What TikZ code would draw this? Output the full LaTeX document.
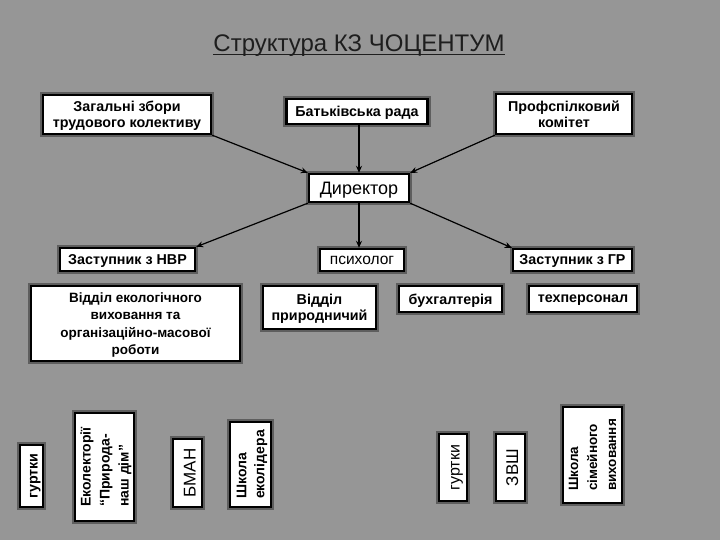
\documentclass[tikz,border=0pt]{standalone}
\usepackage{fontspec}
\setmainfont{Liberation Sans}
\usetikzlibrary{arrows.meta}
\definecolor{bg}{HTML}{969696}
\definecolor{shade}{HTML}{5E5E5E}
\definecolor{titlec}{HTML}{1E1E1E}
\tikzset{
  box/.style={preaction={draw=shade, line width=6.5pt}, draw=black, fill=white, line width=2.4pt,
    inner sep=0pt, text depth=0pt, font=\fontsize{14.3}{16}\selectfont\bfseries},
  mbox/.style={box, align=center},
  vbox/.style={box, rotate=90},
  mvbox/.style={box, rotate=90, align=left},
  sz/.style 2 args={minimum width=#1pt, minimum height=#2pt},
  conn/.style={draw=black, line width=1.2pt, -{Stealth[length=7pt,width=6pt]}},
}
\begin{document}
\begin{tikzpicture}[x=1pt,y=-1pt]
\fill[bg] (0,0) rectangle (720,540);
\useasboundingbox (0,0) rectangle (720,540);
% title
\node[font=\fontsize{24}{28}\selectfont, text=titlec, inner sep=0pt, anchor=base] (title) at (359,52) {Структура КЗ ЧОЦЕНТУМ};
\draw[titlec, line width=1pt] ([yshift=-2.5pt]title.base west) -- ([yshift=-2.5pt]title.base east);
% top row
\node[mbox, sz={168}{39}, text depth=-6pt] (b1) at (127,114.5) {Загальні збори\\трудового колективу};
\node[box, sz={141}{25}] (bat) at (357,111.5) {Батьківська рада};
\node[mbox, sz={136}{40}, text depth=-6pt] (prof) at (564,114) {Профспілковий\\комітет};
\node[box, sz={100}{28}, font=\fontsize{18}{20}\selectfont] (dir) at (359,188) {Директор};
% second row
\node[box, sz={135}{23}] (nvr) at (127.5,259.5) {Заступник з НВР};
\node[box, sz={84}{22}, font=\fontsize{15.5}{18}\selectfont] (psy) at (362,260) {психолог};
\node[box, sz={119}{22}] (gr) at (572.5,260) {Заступник з ГР};
% third row
\node[mbox, sz={209}{75}, font=\fontsize{13.5}{17.5}\selectfont\bfseries] (eco) at (135.5,323.5) {Відділ екологічного\\виховання та\\організаційно-масової\\роботи};
\node[mbox, sz={113}{43}] (prir) at (319.5,307.5) {Відділ\\природничий};
\node[box, sz={103}{26}] (buh) at (450.5,299) {бухгалтерія};
\node[box, sz={108}{26}] (teh) at (583,299) {техперсонал};
% bottom row (vertical)
\node[vbox, sz={62}{23}, text height=12pt] (g1) at (31.5,476) {гуртки};
\node[mvbox, sz={108}{59}, font=\fontsize{14}{19}\selectfont\bfseries] (ekl) at (104.5,467) {Еколекторії\\“Природа-\\наш дім”};
\node[vbox, sz={68}{29}, text height=16pt, font=\fontsize{17}{20}\selectfont] (bman) at (187.5,473) {БМАН};
\node[mvbox, sz={85}{41}, font=\fontsize{14}{18}\selectfont\bfseries] (shk) at (250.5,464.5) {Школа\\еколідера};
\node[vbox, sz={67}{28}, text height=13pt, font=\fontsize{16}{19}\selectfont] (g2) at (453,467.5) {гуртки};
\node[vbox, sz={67}{29}, text height=15pt, font=\fontsize{17}{19}\selectfont] (zvsh) at (510.5,467.5) {ЗВШ};
\node[mvbox, sz={96}{59}, font=\fontsize{13.5}{19}\selectfont\bfseries] (shs) at (592.5,455) {Школа\\сімейного\\виховання};
% connectors
\draw[conn] (b1.south east) -- (dir.north west);
\draw[conn] (dir.north |- bat.south) -- (dir.north);
\draw[conn] (prof.south west) -- (dir.north east);
\draw[conn] (dir.south west) -- (nvr.north east);
\draw[conn] (dir.south) -- (dir.south |- psy.north);
\draw[conn] (dir.south east) -- (gr.north west);
\end{tikzpicture}
\end{document}
